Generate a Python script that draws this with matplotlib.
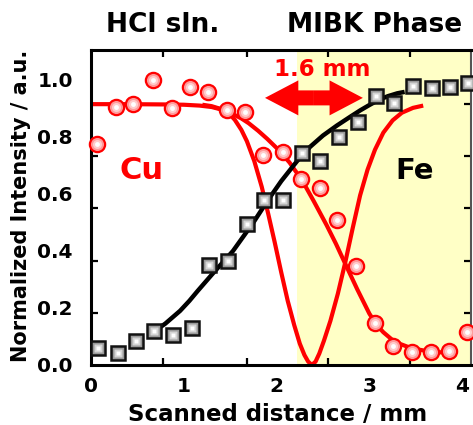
import matplotlib
matplotlib.use("Agg")
import matplotlib.pyplot as plt
from matplotlib.patches import FancyArrowPatch

# ---- data ----
fe_x = [0.075, 0.29, 0.485, 0.68, 0.88, 1.09, 1.27, 1.48, 1.68, 1.86, 2.07,
        2.27, 2.47, 2.67, 2.88, 3.07, 3.27, 3.47, 3.67, 3.87, 4.06]
fe_y = [0.06, 0.042, 0.085, 0.12, 0.106, 0.13, 0.352, 0.366, 0.493, 0.58, 0.58,
        0.743, 0.715, 0.80, 0.852, 0.944, 0.919, 0.979, 0.972, 0.975, 0.989]

cu_x = [0.065, 0.27, 0.45, 0.67, 0.87, 1.07, 1.26, 1.47, 1.66, 1.85, 2.07,
        2.26, 2.47, 2.65, 2.86, 3.06, 3.25, 3.46, 3.66, 3.86, 4.05]
cu_y = [0.775, 0.905, 0.915, 1.0, 0.90, 0.975, 0.958, 0.894, 0.887, 0.736, 0.746,
        0.651, 0.62, 0.507, 0.349, 0.148, 0.067, 0.046, 0.046, 0.049, 0.116]

# fitted curves
fe_fit_x = [0.69, 0.80, 0.96, 1.06, 1.15, 1.31, 1.42, 1.53, 1.64, 1.75, 1.90,
            2.05, 2.22, 2.36, 2.50, 2.65, 2.79, 2.90, 3.00, 3.10, 3.20, 3.30, 3.38]
fe_fit_y = [0.12, 0.145, 0.19, 0.225, 0.26, 0.32, 0.36, 0.40, 0.45, 0.50, 0.575,
            0.645, 0.715, 0.765, 0.805, 0.84, 0.87, 0.893, 0.912, 0.93, 0.943, 0.953, 0.958]

cu_fit_x = [0.0, 0.4, 0.8, 1.0, 1.17, 1.30, 1.42, 1.53, 1.62, 1.70, 1.80, 1.90,
            2.02, 2.14, 2.28, 2.40, 2.54, 2.64, 2.74, 2.87, 3.00, 3.08, 3.15,
            3.24, 3.33, 3.42, 3.50, 3.60, 3.70, 3.84, 3.90]
cu_fit_y = [0.915, 0.915, 0.914, 0.913, 0.91, 0.905, 0.895, 0.88, 0.865, 0.848,
            0.822, 0.793, 0.755, 0.71, 0.645, 0.575, 0.49, 0.425, 0.355, 0.265,
            0.18, 0.14, 0.115, 0.09, 0.074, 0.063, 0.056, 0.05, 0.046, 0.043, 0.042]

dip_x = [1.20, 1.30, 1.40, 1.48, 1.55, 1.62, 1.68, 1.76, 1.84, 1.91, 1.98, 2.05,
         2.12, 2.19, 2.25, 2.30, 2.34, 2.38, 2.42, 2.46, 2.51, 2.58, 2.66, 2.74,
         2.82, 2.90, 2.98, 3.06, 3.15, 3.25, 3.35, 3.47, 3.58]
dip_y = [0.913, 0.908, 0.898, 0.885, 0.86, 0.825, 0.785, 0.715, 0.625, 0.53, 0.43,
         0.325, 0.225, 0.14, 0.075, 0.035, 0.012, 0.0, 0.012, 0.04, 0.085, 0.155,
         0.25, 0.36, 0.48, 0.595, 0.685, 0.755, 0.815, 0.858, 0.885, 0.902, 0.91]

x_ticks = [0, 1, 2, 3, 4]
x_ticklabels = ["0", "1", "2", "3", "4"]
y_ticks = [0.0, 0.2, 0.4, 0.6, 0.8, 1.0]
y_ticklabels = ["0.0", "0.2", "0.4", "0.6", "0.8", "1.0"]

mibk_start = 2.22
arrow_left, arrow_right, arrow_y = 1.875, 2.93, 0.937

# ---- figure ----
plt.rcParams['font.family'] = ['DejaVu Sans']
plt.rcParams['font.weight'] = 'bold'

fig = plt.figure(figsize=(4.73, 4.25), dpi=100)
ax = fig.add_axes([91 / 473, 60 / 425, 380 / 473, 315 / 425])
ax.set_xlim(0, 4.095)
ax.set_ylim(0, 1.105)

ax.axvspan(mibk_start, 4.095, color='#FFFFC6', zorder=0, lw=0)

RED = '#FF0000'
line_kw = dict(solid_capstyle='butt', solid_joinstyle='round')
ax.plot(cu_fit_x, cu_fit_y, color=RED, lw=3, zorder=2, **line_kw)
ax.plot(dip_x, dip_y, color=RED, lw=3, zorder=2, **line_kw)
ax.plot(fe_fit_x, fe_fit_y, color='black', lw=3.2, zorder=2.5, **line_kw)

# squares (Fe) with a gray-to-white look
ax.plot(fe_x, fe_y, ls='none', marker='s', ms=10.5, mfc='#9a9a9a', mec='#111111',
        mew=1.8, zorder=4, clip_on=False)
ax.plot(fe_x, fe_y, ls='none', marker='s', ms=5.5, mfc='#d4d4d4', mec='none',
        zorder=4.1, clip_on=False)
ax.plot(fe_x, fe_y, ls='none', marker='s', ms=2.8, mfc='white', mec='none',
        zorder=4.2, clip_on=False)

# circles (Cu) with a pink-to-white look
ax.plot(cu_x, cu_y, ls='none', marker='o', ms=11, mfc='#ff9a9a', mec=RED,
        mew=1.6, zorder=4, clip_on=False)
ax.plot(cu_x, cu_y, ls='none', marker='o', ms=6.5, mfc='#ffcccc', mec='none',
        zorder=4.1, clip_on=False)
ax.plot(cu_x, cu_y, ls='none', marker='o', ms=3.5, mfc='white', mec='none',
        zorder=4.2, clip_on=False)

# double arrow
mid = (arrow_left + arrow_right) / 2
for end in (arrow_left, arrow_right):
    arr = FancyArrowPatch((mid, arrow_y), (end, arrow_y),
                          arrowstyle='simple,head_length=1.0,head_width=1.05,tail_width=0.45',
                          mutation_scale=24, color=RED, lw=0, shrinkA=0, shrinkB=0,
                          zorder=5)
    ax.add_patch(arr)

ax.text(2.49, 1.035, "1.6 mm", color=RED, fontsize=16.5, fontweight='bold',
        ha='center', va='center', zorder=6)
ax.text(0.54, 0.683, "Cu", color=RED, fontsize=22, fontweight='bold',
        ha='center', va='center', zorder=6)
ax.text(3.49, 0.68, "Fe", color='black', fontsize=21, fontweight='bold',
        ha='center', va='center', zorder=6)

fig.text(163 / 473, 1 - 25 / 425, "HCl sln.", fontsize=19, fontweight='bold',
         ha='center', va='center')
fig.text(375 / 473, 1 - 25 / 425, "MIBK Phase", fontsize=19, fontweight='bold',
         ha='center', va='center')

# ticks: labels at the data values, small inward tick marks as in the picture
ax.set_xticks(x_ticks)
ax.set_xticklabels(x_ticklabels, fontsize=14.5, fontweight='bold')
ax.set_yticks(y_ticks)
ax.set_yticklabels(y_ticklabels, fontsize=14.5, fontweight='bold')
ax.tick_params(axis='both', which='major', length=0)
ax.tick_params(axis='x', which='major', pad=9)
ax.tick_params(axis='y', which='major', pad=13)
ax.set_xticks([0.776, 1.68, 2.55, 3.44], minor=True)
ax.set_yticks([0.183, 0.366, 0.549, 0.732, 0.915], minor=True)
ax.tick_params(which='minor', direction='in', length=5, width=1.6,
               top=True, right=True, color='black')

ax.set_xlabel("Scanned distance / mm", fontsize=16.5, fontweight='bold')
ax.xaxis.set_label_coords(0.49, -0.122)
ax.set_ylabel("Normalized Intensity / a.u.", fontsize=15, fontweight='bold')
ax.yaxis.set_label_coords(-0.158, 0.505)

for side in ('left', 'bottom', 'top'):
    ax.spines[side].set_linewidth(2.2)
    ax.spines[side].set_color('black')
ax.spines['right'].set_linewidth(1.5)
ax.spines['right'].set_color('#555555')

fig.savefig("out.png", dpi=100)
